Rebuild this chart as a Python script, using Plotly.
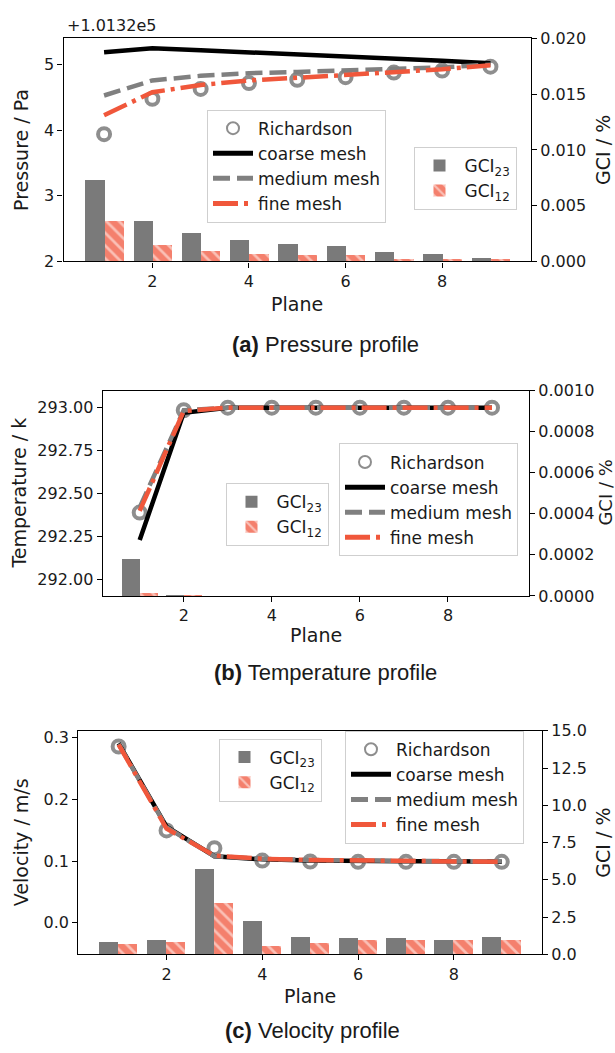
import plotly.graph_objects as go

# ---------------- data ----------------
planes = [1, 2, 3, 4, 5, 6, 7, 8, 9]
x_ticks = [2, 4, 6, 8]

P_OFFSET = 1.0132e5
p_richardson = [101323.94, 101324.48, 101324.63, 101324.72, 101324.77, 101324.81, 101324.88, 101324.91, 101324.97]
p_coarse = [101325.19, 101325.25, 101325.22, 101325.19, 101325.15, 101325.12, 101325.09, 101325.06, 101325.02]
p_medium = [101324.53, 101324.76, 101324.83, 101324.87, 101324.89, 101324.91, 101324.94, 101324.96, 101325.00]
p_fine = [101324.23, 101324.58, 101324.69, 101324.76, 101324.80, 101324.84, 101324.89, 101324.93, 101324.99]
p_gci23 = [0.0073, 0.0036, 0.00254, 0.0019, 0.0015, 0.00137, 0.00076, 0.00064, 0.00029]
p_gci12 = [0.00354, 0.0014, 0.00085, 0.00064, 0.00056, 0.00056, 0.0002, 0.00018, 0.00009]

t_richardson = [292.39, 292.985, 293.0, 293.0, 293.0, 293.0, 293.0, 293.0, 293.0]
t_coarse = [292.23, 292.97, 293.0, 293.0, 293.0, 293.0, 293.0, 293.0, 293.0]
t_medium = [292.42, 292.985, 293.0, 293.0, 293.0, 293.0, 293.0, 293.0, 293.0]
t_fine = [292.40, 292.98, 293.0, 293.0, 293.0, 293.0, 293.0, 293.0, 293.0]
t_gci23 = [0.00018, 0.000004, 0, 0, 0, 0, 0, 0, 0]
t_gci12 = [0.000018, 0.000004, 0, 0, 0, 0, 0, 0, 0]

v_richardson = [0.286, 0.150, 0.121, 0.101, 0.0995, 0.099, 0.099, 0.099, 0.099]
v_coarse = [0.291, 0.156, 0.108, 0.103, 0.101, 0.100, 0.100, 0.100, 0.099]
v_medium = [0.290, 0.155, 0.108, 0.104, 0.102, 0.101, 0.100, 0.100, 0.100]
v_fine = [0.289, 0.153, 0.109, 0.104, 0.102, 0.101, 0.100, 0.100, 0.099]
v_gci23 = [0.86, 1.01, 5.74, 2.26, 1.16, 1.10, 1.10, 1.01, 1.16]
v_gci12 = [0.70, 0.86, 3.47, 0.55, 0.77, 0.95, 1.01, 1.01, 1.01]

# ---------------- style ----------------
W, H = 615, 1053
FONT = "DejaVu Sans"
CAP_FONT = "Liberation Sans"
TXT = "#1a1a1a"
GREY_BAR = "#7a7a7a"
GREY_LINE = "#808080"
GREY_MARK = "#8e8e8e"
RED = "#f0573b"
SALMON = "#f4806d"
LW = 4.5


def px_x(v):
    return v / W


def px_y(v):
    return 1 - v / H


fig = go.Figure()

panels = [
    dict(xa="x", ya="y", ya2="y2", lg="legend", lg2="legend2",
         yl=[p - P_OFFSET for p in p_richardson], yc=[p - P_OFFSET for p in p_coarse],
         ym=[p - P_OFFSET for p in p_medium], yf=[p - P_OFFSET for p in p_fine],
         g23=p_gci23, g12=p_gci12),
    dict(xa="x2", ya="y3", ya2="y4", lg="legend3", lg2="legend4",
         yl=t_richardson, yc=t_coarse, ym=t_medium, yf=t_fine, g23=t_gci23, g12=t_gci12),
    dict(xa="x3", ya="y5", ya2="y6", lg="legend5", lg2="legend6",
         yl=v_richardson, yc=v_coarse, ym=v_medium, yf=v_fine, g23=v_gci23, g12=v_gci12),
]

for p in panels:
    fig.add_trace(go.Bar(x=planes, y=p["g23"], width=0.4, offset=-0.4, name="GCI<sub>23</sub>",
                         marker=dict(color=GREY_BAR, line=dict(width=0)),
                         xaxis=p["xa"], yaxis=p["ya2"], legend=p["lg2"]))
    fig.add_trace(go.Bar(x=planes, y=p["g12"], width=0.4, offset=0.0, name="GCI<sub>12</sub>",
                         marker=dict(color=SALMON, line=dict(width=0),
                                     pattern=dict(shape="\\", fgcolor="white", size=9,
                                                  solidity=0.3, fillmode="overlay")),
                         xaxis=p["xa"], yaxis=p["ya2"], legend=p["lg2"]))
    fig.add_trace(go.Scatter(x=planes, y=p["yl"], mode="markers", name="Richardson",
                             marker=dict(symbol="circle", size=12, color="rgba(0,0,0,0)",
                                         line=dict(color=GREY_MARK, width=4)),
                             xaxis=p["xa"], yaxis=p["ya"], legend=p["lg"]))
    fig.add_trace(go.Scatter(x=planes, y=p["yc"], mode="lines", name="coarse mesh",
                             line=dict(color="black", width=LW),
                             xaxis=p["xa"], yaxis=p["ya"], legend=p["lg"]))
    fig.add_trace(go.Scatter(x=planes, y=p["ym"], mode="lines", name="medium mesh",
                             line=dict(color=GREY_LINE, width=LW, dash="17px,7px"),
                             xaxis=p["xa"], yaxis=p["ya"], legend=p["lg"]))
    fig.add_trace(go.Scatter(x=planes, y=p["yf"], mode="lines", name="fine mesh",
                             line=dict(color=RED, width=LW, dash="25px,6px,4px,6px"),
                             xaxis=p["xa"], yaxis=p["ya"], legend=p["lg"]))

tickfont = dict(family=FONT, size=16, color=TXT)
XR = [0.16, 9.84]


def xaxis(left, right, anchor):
    return dict(domain=[px_x(left), px_x(right)], anchor=anchor, range=XR,
                tickvals=x_ticks, showline=True, mirror=True, linecolor="black", linewidth=1.3,
                ticks="outside", ticklen=5, tickwidth=1.3, tickcolor="black",
                showgrid=False, zeroline=False, tickfont=tickfont)


def yaxis(top, bottom, anchor, rng, dtick, fmt, tick0=0):
    return dict(domain=[px_y(bottom), px_y(top)], anchor=anchor, range=rng,
                dtick=dtick, tick0=tick0, tickformat=fmt,
                showline=True, linecolor="black", linewidth=1.3,
                ticks="outside", ticklen=5, tickwidth=1.3, tickcolor="black",
                showgrid=False, zeroline=False, tickfont=tickfont)


def yaxis_r(overlay, anchor, rng, dtick, fmt):
    return dict(overlaying=overlay, side="right", anchor=anchor, range=rng,
                dtick=dtick, tick0=0, tickformat=fmt,
                showline=True, linecolor="black", linewidth=1.3,
                ticks="outside", ticklen=5, tickwidth=1.3, tickcolor="black",
                showgrid=False, zeroline=False, tickfont=tickfont)


legend_common = dict(xanchor="center", yanchor="middle", bgcolor="white", bordercolor="#cfcfcf",
                     borderwidth=1, font=dict(family=FONT, size=17, color=TXT),
                     tracegroupgap=0, itemsizing="constant", itemwidth=40)


def leg(cx, cy):
    d = dict(legend_common)
    d.update(x=px_x(cx), y=px_y(cy))
    return d


fig.update_layout(
    width=W, height=H, margin=dict(l=0, r=0, t=0, b=0),
    paper_bgcolor="white", plot_bgcolor="white",
    barmode="overlay", bargap=0,
    font=dict(family=FONT, color=TXT),
    xaxis=xaxis(63.5, 531, "y"),
    yaxis=yaxis(30, 257, "x", [2.0, 5.40], 1, "d"),
    yaxis2=yaxis_r("y", "x", [0, 0.020], 0.005, ".3f"),
    xaxis2=xaxis(102.7, 529, "y3"),
    yaxis3=yaxis(388.7, 597.7, "x2", [291.905, 293.099], 0.25, ".2f"),
    yaxis4=yaxis_r("y3", "x2", [0, 0.0010], 0.0002, ".4f"),
    xaxis3=xaxis(78.4, 542, "y5"),
    yaxis5=yaxis(735, 962.7, "x3", [-0.051, 0.3116], 0.1, ".1f"),
    yaxis6=yaxis_r("y5", "x3", [0, 15], 2.5, ".1f"),
    legend=leg(296.5, 160), legend2=leg(465, 172.5),
    legend3=leg(428.5, 500), legend4=leg(277, 515),
    legend5=leg(434.5, 792.5), legend6=leg(270, 775),
    showlegend=True,
)

ann = []


def text(x, y, s, size, angle=0, family=FONT, xanchor="center"):
    ann.append(dict(x=px_x(x), y=px_y(y), xref="paper", yref="paper", text=s, showarrow=False,
                    textangle=angle, xanchor=xanchor, yanchor="middle",
                    font=dict(family=family, size=size, color=TXT)))


# axis titles
text(21, 143.5, "Pressure / Pa", 19, -90)
text(603, 143.5, "GCI / %", 19, -90)
text(297, 300, "Plane", 19)
text(65, 17, "+1.0132e5", 16, xanchor="left")
text(19.5, 493, "Temperature / k", 19, -90)
text(605.5, 493, "GCI / %", 18, -90)
text(316, 638, "Plane", 19)
text(20.5, 849, "Velocity / m/s", 19, -90)
text(603, 849, "GCI / %", 19, -90)
text(310, 1005, "Plane", 19)
# captions
text(326, 341.5, "<b>(a)</b> Pressure profile", 22, family=CAP_FONT)
text(326, 676, "<b>(b)</b> Temperature profile", 22, family=CAP_FONT)
text(312, 1040, "<b>(c)</b> Velocity profile", 22, family=CAP_FONT)

fig.update_layout(annotations=ann)

fig.write_html("out.html", config={"displayModeBar": False})
